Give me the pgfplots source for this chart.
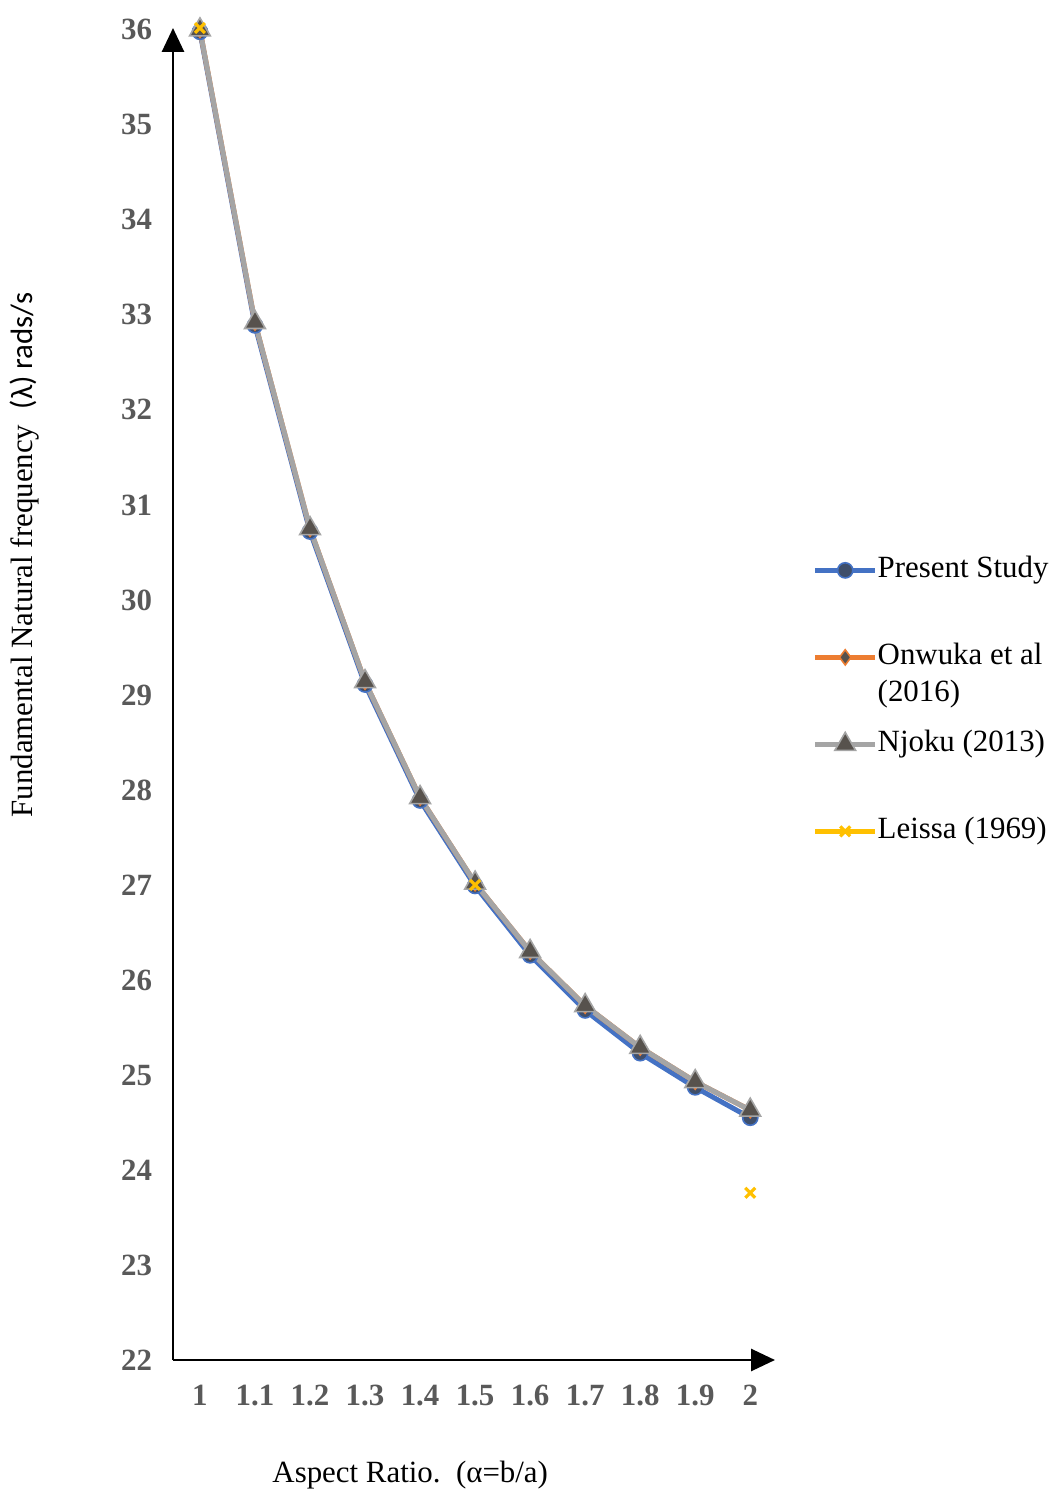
\documentclass[border=0pt]{standalone}
\usepackage{fontspec}
\setmainfont{Liberation Serif}
\newfontfamily\calfont{Carlito}
\usepackage{pgfplots}
\pgfplotsset{compat=1.18}
\usetikzlibrary{arrows.meta}
\definecolor{psblue}{HTML}{4472C4}
\definecolor{psmark}{HTML}{3F4F6B}
\definecolor{onorange}{HTML}{ED7D31}
\definecolor{njgray}{HTML}{A5A5A5}
\definecolor{njmark}{HTML}{57524D}
\definecolor{legold}{HTML}{FFC000}
\definecolor{tickgray}{HTML}{595959}
\begin{document}
\begin{tikzpicture}
\useasboundingbox (-86.5bp,-66bp) rectangle (443bp,680bp);
\begin{axis}[
  scale only axis,
  width=301bp, height=666bp,
  xmin=0.951, xmax=2.045,
  ymin=22, ymax=36.02,
  axis lines=left,
  axis line style={line width=1.4bp, black, -{Triangle[width=11bp,length=12bp]}},
  clip=false,
  xtick={1,1.1,1.2,1.3,1.4,1.5,1.6,1.7,1.8,1.9,2},
  ytick={22,23,...,36},
  major tick length=0pt,
  /pgf/number format/assume math mode=true,
  ticklabel style={font=\fontsize{15.5}{17}\selectfont\bfseries, color=tickgray},
  yticklabel style={xshift=-7bp},
  xticklabel style={yshift=-9bp},
  xlabel={Aspect Ratio.\ \ (α=b/a)},
  xlabel style={font=\fontsize{15.5}{18}\selectfont, at={(axis description cs:0.394,-0.0863)}, anchor=center},
  ylabel={Fundamental Natural frequency\ \ {\calfont (λ) rads/s}},
  ylabel style={font=\fontsize{15.5}{18}\selectfont, at={(axis description cs:-0.2458,0.407)}, anchor=west, inner sep=0pt, rotate=0},
  unbounded coords=jump,
  legend cell align=left,
  legend image code/.code={\draw[mark repeat=2,mark phase=2,#1] plot coordinates {(0bp,0bp)(15bp,0bp)(30bp,0bp)};},
  legend style={draw=none, fill=none, at={(axis description cs:1.062,0.604)}, anchor=north west,
    font=\fontsize{15.5}{18.5}\selectfont, row sep=29bp, column sep=0bp, inner sep=0pt,
    nodes={inner sep=0pt, text height=11bp, text depth=3.5bp}},
]
\addplot[color=psblue, line width=2.5bp, mark=*, mark size=3.8bp, mark options={fill=psmark, draw=psblue, line width=0.8bp}]
coordinates {(1,35.98)(1.1,32.89)(1.2,30.72)(1.3,29.11)(1.4,27.89)(1.5,26.99)(1.6,26.26)(1.7,25.68)(1.8,25.23)(1.9,24.87)(2,24.55)};
\addlegendentry{Present Study}
\addplot[color=onorange, line width=2.5bp, mark=diamond*, mark size=3.8bp, mark options={fill=njmark, draw=onorange, line width=0.8bp}]
coordinates {(1,36.00)(1.1,32.92)(1.2,30.75)(1.3,29.14)(1.4,27.92)(1.5,27.02)(1.6,26.30)(1.7,25.73)(1.8,25.29)(1.9,24.93)(2,24.63)};
\addlegendentry{\smash{\begin{tabular}[t]{@{}l@{}}Onwuka et al\\(2016)\end{tabular}}}
\addplot[color=njgray, line width=2.5bp, mark=triangle*, mark size=6bp, mark options={fill=njmark, draw=njgray, line width=0.8bp}]
coordinates {(1,36.00)(1.1,32.92)(1.2,30.75)(1.3,29.14)(1.4,27.92)(1.5,27.02)(1.6,26.30)(1.7,25.73)(1.8,25.29)(1.9,24.93)(2,24.63)};
\addlegendentry{Njoku (2013)}
\addplot[color=legold, line width=2.5bp, mark=x, mark size=3.5bp, mark options={draw=legold, line width=1.6bp}]
coordinates {(1,36.02)(1.1,nan)(1.2,nan)(1.3,nan)(1.4,nan)(1.5,27.00)(1.6,nan)(1.7,nan)(1.8,nan)(1.9,nan)(2,23.76)};
\addlegendentry{Leissa (1969)}
\end{axis}
\end{tikzpicture}
\end{document}
